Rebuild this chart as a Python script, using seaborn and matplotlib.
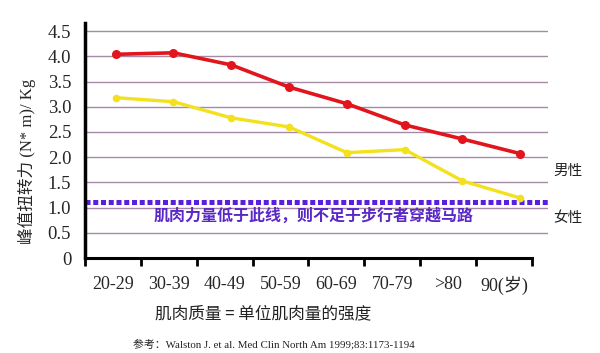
import numpy as np
import pandas as pd
import matplotlib
matplotlib.use('Agg')
import matplotlib.pyplot as plt
import seaborn as sns

# age groups and peak torque per kg
age_labels = ['20-29', '30-39', '40-49', '50-59', '60-69', '70-79', '>80', '90(岁)']
male = [4.04, 4.07, 3.83, 3.39, 3.06, 2.64, 2.36, 2.07]
female = [3.18, 3.10, 2.78, 2.60, 2.09, 2.15, 1.53, 1.19]
threshold = 1.11
y_ticks = [0, 0.5, 1.0, 1.5, 2.0, 2.5, 3.0, 3.5, 4.0, 4.5]
y_tick_labels = ['0', '0.5', '1.0', '1.5', '2.0', '2.5', '3.0', '3.5', '4.0', '4.5']

sns.set_style('white')
plt.rcParams['font.family'] = ['Liberation Serif', 'Noto Sans CJK SC']
cjk = ['Noto Sans CJK SC', 'DejaVu Sans']
serif = ['Liberation Serif', 'Noto Sans CJK SC']

df = pd.DataFrame({'pos': np.arange(len(age_labels)), 'male': male, 'female': female})

fig = plt.figure(figsize=(6, 3.53), dpi=100)
ax = fig.add_axes([0.1417, 0.269, 0.7717, 0.6657])

for y in y_ticks[1:]:
    ax.axhline(y, color='#a48aa4', lw=1, zorder=1)

ax.axhline(threshold, color='#5a1ee0', lw=3.6, linestyle=(0, (1, 0.55)), zorder=2)

sns.lineplot(data=df, x='pos', y='female', ax=ax, color='#f3e11e', lw=2.4,
             marker='o', markersize=5.5, markeredgewidth=0, zorder=3)
sns.lineplot(data=df, x='pos', y='male', ax=ax, color='#e2141c', lw=2.6,
             marker='o', markersize=6.5, markeredgewidth=0, zorder=4)

ax.set_xlim(-0.52, 7.48)
ax.set_ylim(0, 4.66)

bounds = np.linspace(-0.53, 7.2, 9)
ax.set_xticks(bounds)
ax.set_xticklabels([])
ax.set_xticks((bounds[:-1] + bounds[1:]) / 2, minor=True)
ax.set_xticklabels(age_labels, minor=True, fontsize=13, family=serif)
ax.tick_params(axis='x', which='major', direction='out', length=6, width=2, color='black', bottom=True)
ax.tick_params(axis='x', which='minor', length=0, pad=13, bottom=True)

ax.set_yticks(y_ticks)
ax.set_yticklabels(y_tick_labels, fontsize=13.5, family=serif)
ax.tick_params(axis='y', length=0, pad=10)

for side in ['top', 'right']:
    ax.spines[side].set_visible(False)
ax.spines['left'].set_linewidth(2.5)
ax.spines['left'].set_color('black')
ax.spines['bottom'].set_linewidth(2.2)
ax.spines['bottom'].set_color('black')
ax.spines['bottom'].set_bounds(-0.53, 7.2)

ax.set_xlabel('')
ax.set_ylabel('峰值扭转力 (N* m)/ Kg', fontsize=12, family=serif, labelpad=8)
ax.yaxis.set_label_coords(-0.105, 0.41)

ax.text(3.42, 0.84, '肌肉力量低于此线，则不足于步行者穿越马路', family=cjk, fontsize=11.5,
        fontweight='bold', color='#5a28c8', ha='center', va='center')
ax.text(7.58, 1.72, '男性', family=cjk, fontsize=10.5, color='#222222', ha='left', va='center')
ax.text(7.58, 0.80, '女性', family=cjk, fontsize=10.5, color='#222222', ha='left', va='center')

fig.text(0.438, 0.11, '肌肉质量 = 单位肌肉量的强度', family=cjk, fontsize=12,
         color='#222222', ha='center', va='center')
fig.text(0.222, 0.025, '参考：Walston J. et al. Med Clin North Am 1999;83:1173-1194',
         family=serif, fontsize=7.8, color='#222222', ha='left', va='center')

fig.savefig('out.png', dpi=100)
